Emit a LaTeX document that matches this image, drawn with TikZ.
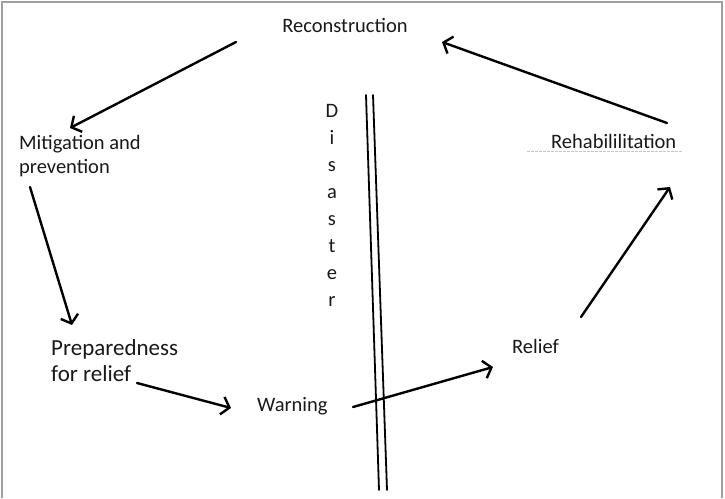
\documentclass[tikz,border=0pt]{standalone}
\usepackage{fontspec}
\setmainfont{Carlito}
\usetikzlibrary{arrows.meta}
\begin{document}
\begin{tikzpicture}[x=1pt,y=-1pt,
  lbl/.style={inner sep=0pt, font=\fontsize{20.5}{24}\selectfont, text=black!90, align=left},
  big/.style={inner sep=0pt, font=\fontsize{23}{26}\selectfont, text=black!90, align=left},
  arr/.style={line width=2.4pt, line cap=round, -{Straight Barb[length=7.5pt,width=18pt,line width=2.4pt]}},
  wall/.style={line width=1.8pt, line cap=round}]
\useasboundingbox (0,0) rectangle (725,498);
\draw[gray!75, line width=2pt] (2,498) -- (2,2) -- (722,2) -- (722,498);

\node[lbl, anchor=base] (rec) at (345,32) {Reconstruction};
\node[lbl, anchor=west] (mit) at (19,156) {Mitigation and\\prevention};
\node[lbl, anchor=base west] (reh) at (551,148) {Rehabililitation};
\node[big, anchor=west] (prep) at (51,361) {Preparedness\\for relief};
\node[lbl, anchor=base west] (warn) at (257,411) {Warning};
\node[lbl, anchor=base west] (rel) at (512,353) {Relief};
\node[lbl, align=center, font=\fontsize{20.5}{27}\selectfont, anchor=center] (dis) at (332,205) {D\\i\\s\\a\\s\\t\\e\\r};

\draw[gray!45, line width=0.8pt, dash pattern=on 3pt off 1pt] ([shift={(-24,3)}]reh.base west) -- ([shift={(132,3)}]reh.base west);

\coordinate (wa1) at (366,95); \coordinate (wa2) at (379,490);
\coordinate (wb1) at (373,95); \coordinate (wb2) at (387,490);
\draw[wall] (wa1) -- (wa2);
\draw[wall] (wb1) -- (wb2);

\draw[arr] ([shift={(-109,10)}]rec.base) -- ([shift={(51,-28)}]mit.west);
\draw[arr] ([shift={(11,31)}]mit.west) -- ([shift={(21,-36)}]prep.west);
\draw[arr] ([shift={(86,22)}]prep.west) -- ([shift={(-26,-3)}]warn.base west);
\draw[arr] ([shift={(96,-4)}]warn.base west) -- ([shift={(-19,14)}]rel.base west);
\draw[arr] ([shift={(69,-36)}]rel.base west) -- ([shift={(119,39)}]reh.base west);
\draw[arr] ([shift={(116,-25)}]reh.base west) -- ([shift={(97,10)}]rec.base);
\end{tikzpicture}
\end{document}
